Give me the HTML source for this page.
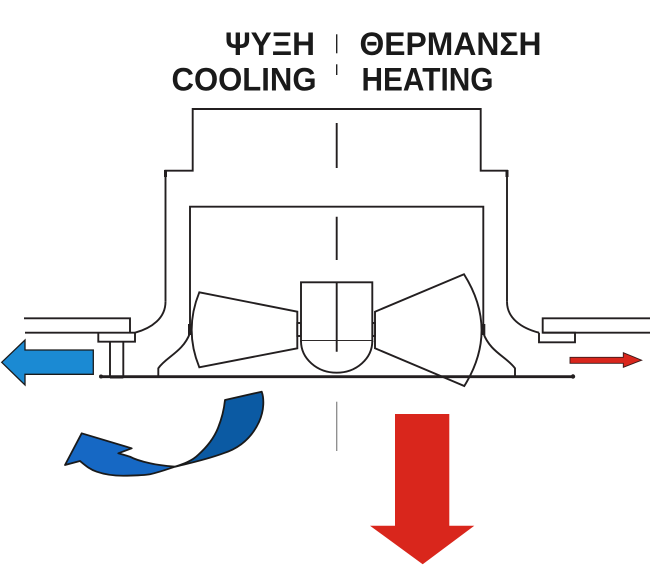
<!DOCTYPE html>
<html>
<head>
<meta charset="utf-8">
<style>
  html,body{margin:0;padding:0;background:#fff;}
  body{width:650px;height:566px;overflow:hidden;}
  svg{display:block;}
</style>
</head>
<body>
<svg width="650" height="566" viewBox="0 0 650 566" xmlns="http://www.w3.org/2000/svg">
  <rect width="650" height="566" fill="#fff"/>

  <!-- Title text -->
  <g font-family="'Liberation Sans', Arial, 'DejaVu Sans', sans-serif" font-weight="bold" font-size="32" fill="#1a1a1a">
    <text x="225" y="55" textLength="90" lengthAdjust="spacingAndGlyphs">ΨΥΞΗ</text>
    <text x="359.5" y="55" textLength="182" lengthAdjust="spacingAndGlyphs">ΘΕΡΜΑΝΣΗ</text>
    <text x="171.5" y="90.5" textLength="145" lengthAdjust="spacingAndGlyphs">COOLING</text>
    <text x="361.5" y="90.5" textLength="132" lengthAdjust="spacingAndGlyphs">HEATING</text>
  </g>
  <line x1="336.7" y1="34.3" x2="336.7" y2="53.3" stroke="#222" stroke-width="1.4"/>
  <line x1="336.7" y1="64.3" x2="336.7" y2="75" stroke="#222" stroke-width="1.4"/>

  <g fill="none" stroke="#231f20" stroke-width="1.9" stroke-linejoin="miter">
    <!-- top box & outer walls -->
    <path d="M165.5,301.7 L165.5,170.7 L192.7,170.7 L192.7,109 L480.7,109 L480.7,170.7 L507,170.7 L507,301.7"/>
    <!-- outer curves -->
    <path d="M165.5,301.7 C165.5,318 152,328 135,332.7"/>
    <path d="M507,301.7 C507,318 521,328 539,332.7"/>
    <!-- inner box -->
    <path d="M190,333 L190,206.7 L483.3,206.7 L483.3,333"/>
    <!-- inner curves -->
    <path d="M190,333 C183,352 166,357 158.3,368.3 L158.3,377"/>
    <path d="M483.3,333 C490,352 507,357 515,368.3 L515,377"/>

    <!-- left ceiling panel -->
    <path d="M24,318.3 L130,318.3 L130,332.7"/>
    <path d="M25,332.7 L135,332.7"/>
    <!-- left small box -->
    <path d="M98.3,332.7 L98.3,341.7 L135,341.7 L135,332.7"/>
    <!-- posts -->
    <path d="M110,341.7 L110,377 M123.3,341.7 L123.3,377"/>

    <!-- right ceiling panel -->
    <path d="M650,318.3 L542.7,318.3 L542.7,332.7 L650,332.7"/>
    <!-- right small box -->
    <path d="M539,332.7 L539,342.3 L575,342.3 L575,332.7 L542.7,332.7"/>

    <!-- center dashes -->
    <path d="M336.7,123 L336.7,168 M336.7,216.7 L336.7,260"/>

    <!-- blades -->
    <path d="M199.3,292.3 L297.3,311.7 L297.3,348.3 L199.3,367.3 Q184,330 199.3,292.3 Z" fill="#fff"/>
    <path d="M464,274.3 L375,311.7 L375,348.3 L464.3,386 Q499,330 464,274.3 Z" fill="#fff"/>
    <!-- connectors -->
    <rect x="297.3" y="323" width="3.7" height="13" fill="#fff"/>
    <rect x="372.3" y="323" width="2.7" height="13" fill="#fff"/>
    <!-- motor -->
    <rect x="301" y="282.3" width="71.3" height="58.7" fill="#fff"/>
    <path d="M301,341 A35.65,31.7 0 0 0 372.3,341" fill="#fff"/>
    <path d="M336.7,282.3 L336.7,351.7"/>
  </g>

  <!-- wall marks -->
  <rect x="188" y="324" width="4" height="11" fill="#231f20"/>
  <rect x="481.3" y="324" width="4" height="11" fill="#231f20"/>
  <rect x="164" y="170" width="3" height="7" fill="#231f20"/>
  <rect x="505.5" y="170" width="3" height="7" fill="#231f20"/>

  <!-- plate -->
  <line x1="101" y1="376.7" x2="573" y2="376.7" stroke="#231f20" stroke-width="2.8"/>
  <circle cx="101" cy="376.5" r="2" fill="#231f20"/>
  <circle cx="573" cy="376.5" r="2.2" fill="#231f20"/>
  <line x1="110" y1="377.5" x2="123.3" y2="377.5" stroke="#231f20" stroke-width="2"/>

  <!-- gray dash below -->
  <line x1="336.7" y1="401.7" x2="336.7" y2="451" stroke="#8a8a8a" stroke-width="1.3"/>

  <!-- left blue arrow -->
  <polygon points="1.7,362.3 25,340 25,350 93.3,350 93.3,374.3 25,374.3 25,385" fill="#1b8ad3" stroke="#1a1a1a" stroke-width="1.3"/>

  <!-- small red arrow -->
  <polygon points="570,357.3 623.3,357.3 623.3,352.7 641.7,360.2 623.3,367.3 623.3,363.3 570,363.3" fill="#d9261c" stroke="#3a1a1a" stroke-width="0.9"/>

  <!-- curved blue arrow: tail -->
  <path d="M225,400 L261.7,391.7 C264,398 264.5,410 259,422 C252,437 240,448 223.3,453.3 C205,460 190,463 175,466.7 C183,464 192,461 198,455 C207,447 214,438 218,428 C222,418 224,410 225,400 Z" fill="#0b5aa3" stroke="#1a1a1a" stroke-width="1.8" stroke-linejoin="round"/>
  <!-- curved blue arrow: front -->
  <path d="M175,466.7 C166,466 157,465 150,463.3 C142,461.5 135,459.5 130,456.7 L118.3,453.3 L131.7,448.3 L81.7,433.3 L65,465 L80,461 C86,466 90,469.5 96.7,471.7 C106,475 116,476 126.7,475.7 C138,475.5 146,475 150,474.3 C160,472 168,469 175,466.7 Z" fill="#1668c4" stroke="#1a1a1a" stroke-width="1.8" stroke-linejoin="round"/>

  <!-- big red arrow -->
  <polygon points="395,414 449.3,414 449.3,525.7 474.3,525.7 422.7,564.3 370,525.7 395,525.7" fill="#d9261c"/>
</svg>
</body>
</html>
